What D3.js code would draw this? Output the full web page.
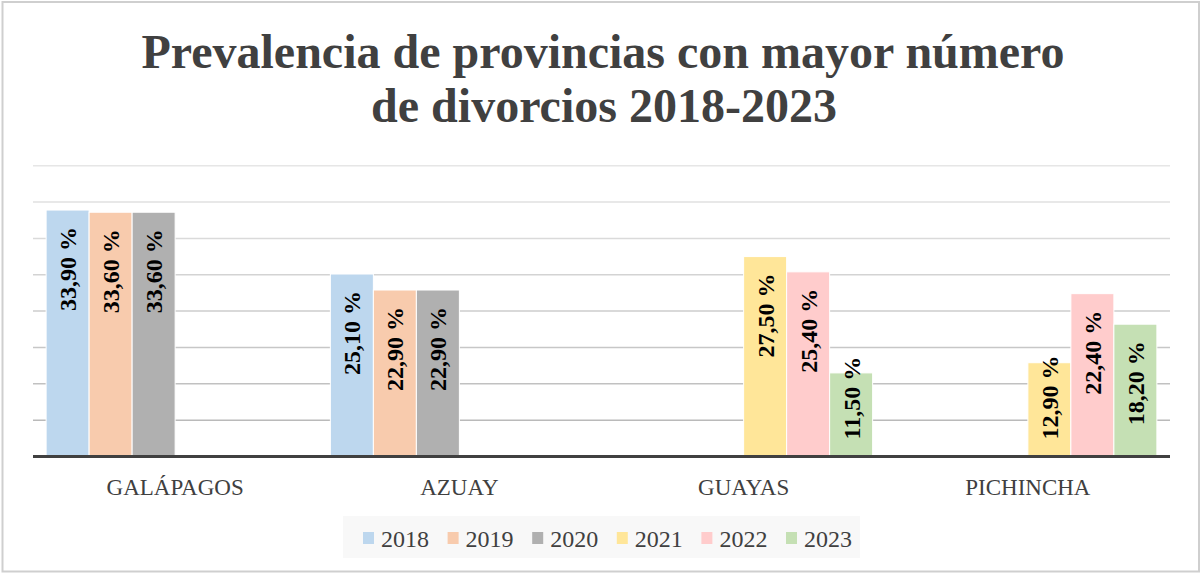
<!DOCTYPE html>
<html>
<head>
<meta charset="utf-8">
<script src="https://cdn.jsdelivr.net/npm/d3@7"></script>
<style>
  body { margin: 0; background: #fff; }
  svg { display: block; font-family: "Liberation Serif", "Times New Roman", serif; }
</style>
</head>
<body>
<div id="chart"></div>
<script>

// data
const PROVINCES = ["GALÁPAGOS", "AZUAY", "GUAYAS", "PICHINCHA"];
const YEARS = ["2018", "2019", "2020", "2021", "2022", "2023"];
const V2018 = [33.9, 25.1, null, null];
const V2019 = [33.6, 22.9, null, null];
const V2020 = [33.6, 22.9, null, null];
const V2021 = [null, null, 27.5, 12.9];
const V2022 = [null, null, 25.4, 22.4];
const V2023 = [null, null, 11.5, 18.2];
const Y_TICKS = [0, 5, 10, 15, 20, 25, 30, 35, 40];
const COLORS = ["#bdd7ee", "#f8cbad", "#b0b0b0", "#ffe699", "#ffcccc", "#c5e0b4"];

const SERIES = [V2018, V2019, V2020, V2021, V2022, V2023];

// constants
const FRAME_WIDTH = 1202;
const FRAME_HEIGHT = 574;
const PLOT = {left: 33, right: 1170, top: 165.7, bottom: 456.5};

const FRAME = d3.select("#chart")
  .append("svg")
    .attr("width", FRAME_WIDTH)
    .attr("height", FRAME_HEIGHT);

// outer border
FRAME.append("rect")
  .attr("x", 2.5).attr("y", 2)
  .attr("width", 1196.5).attr("height", 569.5)
  .attr("fill", "#fff")
  .attr("stroke", "#cfcfcf")
  .attr("stroke-width", 2);

// title
const TITLE = FRAME.append("text")
  .attr("text-anchor", "middle")
  .attr("font-weight", "bold")
  .attr("font-size", "48px")
  .attr("fill", "#404040");
TITLE.append("tspan").attr("x", 603).attr("y", 68).text("Prevalencia de provincias con mayor número");
TITLE.append("tspan").attr("x", 604).attr("y", 122).text("de divorcios 2018-2023");

// scales
const X_SCALE = d3.scaleBand()
  .domain(PROVINCES)
  .range([PLOT.left, PLOT.right]);

const X_INNER = d3.scaleBand()
  .domain(YEARS)
  .range([0, X_SCALE.bandwidth()])
  .paddingOuter(0.305);

const Y_SCALE = d3.scaleLinear()
  .domain([0, 40])
  .range([PLOT.bottom, PLOT.top]);

// gridlines
const gridColor = d3.interpolateRgb("#e6e6e6", "#b4b4b4");
FRAME.append("g")
  .selectAll("line")
  .data(Y_TICKS.filter((d) => d > 0))
  .enter()
  .append("line")
    .attr("x1", PLOT.left)
    .attr("x2", PLOT.right)
    .attr("y1", (d) => Y_SCALE(d))
    .attr("y2", (d) => Y_SCALE(d))
    .attr("stroke", (d) => gridColor(1 - d / 40))
    .attr("stroke-width", 1.5);

// bars
const cells = [];
SERIES.forEach((vals, i) => {
  vals.forEach((v, j) => {
    if (v !== null) cells.push({year: YEARS[i], prov: PROVINCES[j], value: v, color: COLORS[i]});
  });
});

FRAME.append("g")
  .selectAll("rect")
  .data(cells)
  .enter()
  .append("rect")
    .attr("x", (d) => X_SCALE(d.prov) + X_INNER(d.year))
    .attr("y", (d) => Y_SCALE(d.value))
    .attr("width", X_INNER.bandwidth())
    .attr("height", (d) => Y_SCALE(0) - Y_SCALE(d.value))
    .attr("fill", (d) => d.color)
    .attr("stroke", "#fff")
    .attr("stroke-width", 1);

// axis line
FRAME.append("line")
  .attr("x1", PLOT.left).attr("x2", PLOT.right)
  .attr("y1", PLOT.bottom).attr("y2", PLOT.bottom)
  .attr("stroke", "#404040")
  .attr("stroke-width", 3);

// category labels
FRAME.append("g")
  .selectAll("text")
  .data(PROVINCES)
  .enter()
  .append("text")
    .attr("x", (d) => X_SCALE(d) + X_SCALE.bandwidth() / 2)
    .attr("y", 495)
    .attr("text-anchor", "middle")
    .attr("font-size", "23px")
    .attr("fill", "#404040")
    .text((d) => d);

// data labels
const PAD = 17;
FRAME.append("g")
  .selectAll("text")
  .data(cells)
  .enter()
  .append("text")
    .attr("text-anchor", "end")
    .attr("font-weight", "bold")
    .attr("font-size", "24px")
    .attr("fill", "#000")
    .attr("dy", "0.35em")
    .text((d) => d.value.toFixed(2).replace(".", ",") + " %")
    .each(function(d) {
      const len = this.getComputedTextLength();
      let yEnd = Y_SCALE(d.value) + PAD;
      if (yEnd + len > Y_SCALE(0) - PAD) yEnd = Y_SCALE(0) - PAD - len;
      const cx = X_SCALE(d.prov) + X_INNER(d.year) + X_INNER.bandwidth() / 2;
      d3.select(this).attr("transform", "translate(" + cx + "," + yEnd + ") rotate(-90)");
    });

// legend
const LEGEND = FRAME.append("g");
LEGEND.append("rect")
  .attr("x", 343).attr("y", 516)
  .attr("width", 517).attr("height", 42)
  .attr("fill", "#f8f8f8");

const items = LEGEND.selectAll("g.item")
  .data(YEARS)
  .enter()
  .append("g")
    .attr("class", "item")
    .attr("transform", (d, i) => "translate(" + (363 + i * 84.6) + ",0)");
items.append("rect")
  .attr("x", 0).attr("y", 532)
  .attr("width", 11).attr("height", 12)
  .attr("fill", (d, i) => COLORS[i]);
items.append("text")
  .attr("x", 18).attr("y", 547)
  .attr("font-size", "24px")
  .attr("font-family", "'Liberation Serif', serif")
  .attr("fill", "#404040")
  .text((d) => d);

</script>
</body>
</html>
